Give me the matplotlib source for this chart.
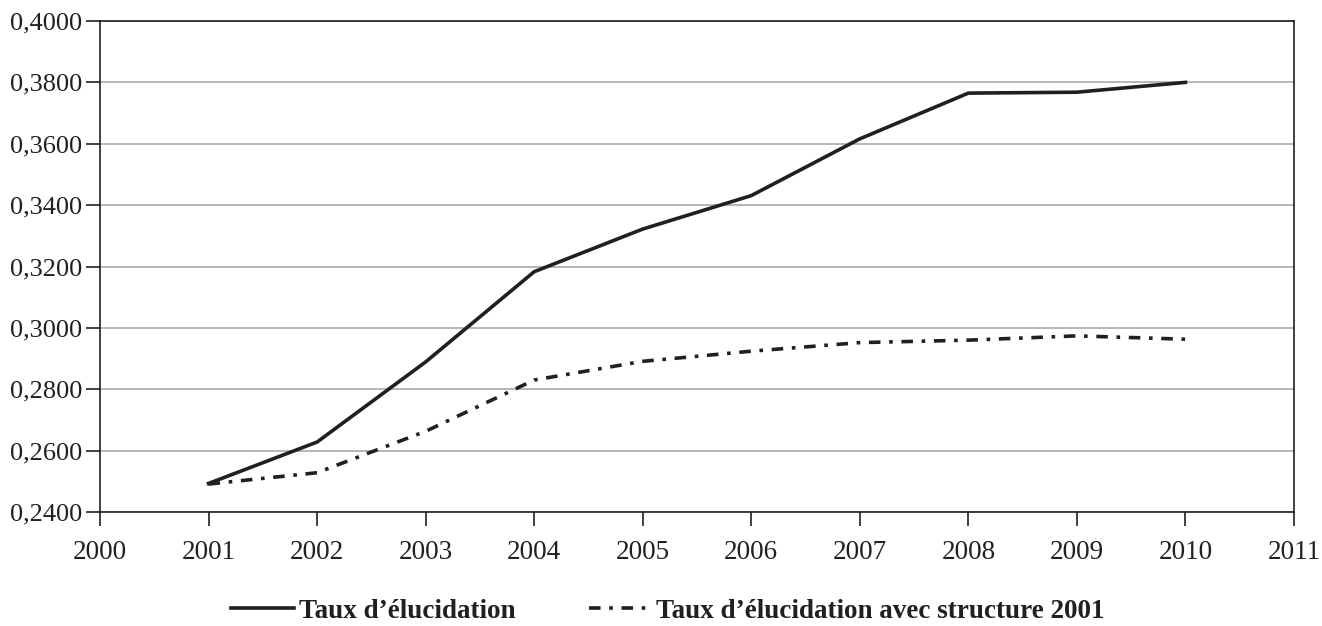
import matplotlib
matplotlib.use('Agg')
import matplotlib.pyplot as plt
from matplotlib.ticker import FuncFormatter

# Data
years = [2001, 2002, 2003, 2004, 2005, 2006, 2007, 2008, 2009, 2010]
taux = [0.2493, 0.2628, 0.2889, 0.3183, 0.3322, 0.3431, 0.3616, 0.3765, 0.3768, 0.3800]
taux_2001 = [0.2491, 0.2528, 0.2663, 0.2830, 0.2891, 0.2924, 0.2952, 0.2960, 0.2974, 0.2963]

label_taux = "Taux d\u2019\u00e9lucidation"
label_taux_2001 = "Taux d\u2019\u00e9lucidation avec structure 2001"

plt.rcParams['font.family'] = ['Liberation Serif', 'DejaVu Serif']

fig = plt.figure(figsize=(13.22, 6.26), dpi=100)
ax = fig.add_axes([100 / 1322, 1 - 512 / 626, 1194 / 1322, 491 / 626])

ink = '#231f20'
ax.plot(years, taux, color=ink, lw=2.6, label=label_taux, solid_joinstyle='round')
ax.plot(years, taux_2001, color=ink, lw=2.6, dashes=(3.2, 2.4, 1, 2.4), label=label_taux_2001)

ax.set_xlim(2000, 2011)
ax.set_ylim(0.24, 0.40)
ax.set_xticks(range(2000, 2012))
ax.set_yticks([0.24 + 0.02 * i for i in range(9)])
ax.yaxis.set_major_formatter(FuncFormatter(lambda v, p: f"{v:.4f}".replace('.', ',')))

ax.grid(axis='y', color='#a3a3a3', lw=1.1)
ax.set_axisbelow(True)
for s in ax.spines.values():
    s.set_color(ink)
    s.set_linewidth(1.2)

ax.tick_params(axis='both', direction='out', length=10, width=1.2, color=ink,
               labelcolor=ink)
ax.tick_params(axis='x', pad=10, labelsize=19.5)
ax.tick_params(axis='y', pad=3, labelsize=19)

leg = fig.legend(loc='center', bbox_to_anchor=(668 / 1322, 1 - 611 / 626), ncol=2,
                 frameon=False, prop={'weight': 'bold', 'size': 19.5},
                 handlelength=2.3, handletextpad=0.2, columnspacing=2.7,
                 borderpad=0.1)
for t in leg.get_texts():
    t.set_color(ink)

fig.savefig('out.png', dpi=100)
